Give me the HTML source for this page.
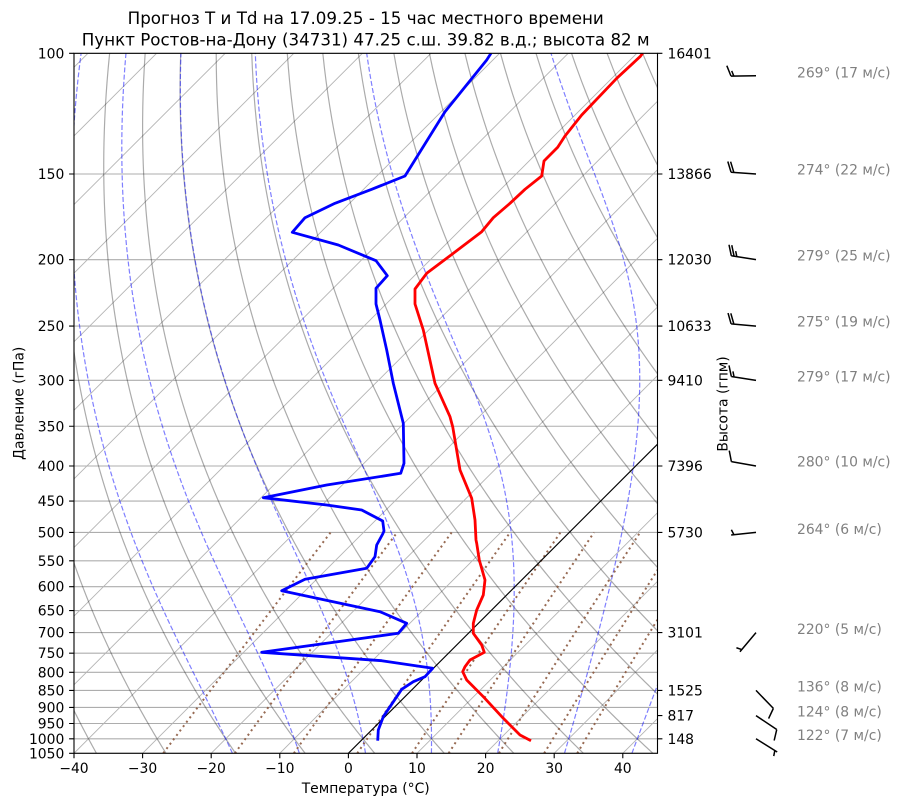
<!DOCTYPE html>
<html><head><meta charset="utf-8">
<style>
html,body{margin:0;padding:0;background:#fff;}
svg{display:block;font-family:"DejaVu Sans","Liberation Sans",sans-serif;}
</style></head><body>
<svg id="s" width="900" height="806" viewBox="0 0 900 806" xmlns="http://www.w3.org/2000/svg">
<defs><clipPath id="c"><rect x="74" y="53.3" width="583.5" height="700"/></clipPath></defs>
<rect x="0" y="0" width="900" height="806" fill="#fff"/>
<g clip-path="url(#c)">
  <g id="hgrid" stroke="#adadad" stroke-width="1.1" fill="none"></g>
  <g id="iso" stroke="#b4b4b4" stroke-width="0.9" fill="none"></g>
  <g id="dry" stroke="#000" stroke-opacity="0.33" stroke-width="1.2" fill="none"></g>
  <g id="moist" stroke="#0000ff" stroke-opacity="0.5" stroke-width="1.2" stroke-dasharray="5,2.2" fill="none"></g>
  <g id="mix" stroke="#8c5a40" stroke-opacity="0.9" stroke-width="2" stroke-dasharray="2,3.5" fill="none"></g>
  <g id="zero" stroke="#000" stroke-width="1.1" fill="none"></g>
  <polyline fill="none" stroke="#ff0000" stroke-width="2.8" stroke-linejoin="round" points="642.7,53.3 640,56.7 616.7,78.3 581.7,115 565,136 557.7,147.3 544,161 541.7,176 525,189.3 510,203.3 493.3,217.7 481.7,231.7 446.7,258.3 426.7,273.3 415,289 415,304 423.3,330 435,383.3 450,416.7 452.7,426.7 460,470 471.7,498.3 475,520 476,540 476.7,543.3 479.3,560 485,580 483.3,595 476.7,610 473.3,623.3 473.3,633.3 481.7,645 484.3,652.3 470,660 465,666.7 462.7,671.7 466.7,680 483.3,696.7 503.3,718.3 520,735 531,740.7"/>
  <polyline fill="none" stroke="#0000ff" stroke-width="2.8" stroke-linejoin="round" points="491,53.3 486.7,60 445,111.7 405,176 371.7,189.3 335,203.3 305,217.7 292.3,232.3 338.3,245 376,260.7 387.3,275.7 376,288.3 376,304 380,320 386.7,350 393.3,383.3 403.3,423.3 404,463.3 400.7,473.3 326.7,485 263.3,497.7 326.7,505 361.7,510 382.7,521 384,531 382.7,534 376.7,545 375,556.7 366.7,568.3 305,579.3 281.7,590.7 380,611.7 406.7,623.3 398.3,633.3 261.7,652.3 381.7,660.7 432.7,668.3 425,676.7 413.3,681.7 401.7,689.3 383.3,716.7 378.3,730 377.7,740.7"/>
</g>
<!-- spines -->
<rect x="74" y="53.3" width="583.5" height="700" fill="none" stroke="#000" stroke-width="1.1"/>
<g id="ticks" stroke="#000" stroke-width="1.1"></g>
<g id="barbs" stroke="#000" stroke-width="1.5" fill="none" stroke-linecap="butt"></g>

<g font-size="16.7" fill="#000" text-anchor="middle">
  <text x="365.7" y="24">Прогноз T и Td на 17.09.25 - 15 час местного времени</text>
  <text x="365.7" y="45.5">Пункт Ростов-на-Дону (34731) 47.25 с.ш. 39.82 в.д.; высота 82 м</text>
</g>
<g font-size="13.9" fill="#000">
  <text x="365.7" y="793" text-anchor="middle">Температура (°C)</text>
  <text transform="translate(23.5,403.3) rotate(-90)" text-anchor="middle">Давление (гПа)</text>
  <text transform="translate(727.7,404) rotate(-90)" text-anchor="middle">Высота (гпм)</text>
</g>
<g id="labels" font-size="13.9" fill="#000"></g>
<g font-size="13.9" fill="#808080">
  <text x="797" y="77.3">269° (17 м/с)</text>
  <text x="797" y="174.7">274° (22 м/с)</text>
  <text x="797" y="260.7">279° (25 м/с)</text>
  <text x="797" y="326.7">275° (19 м/с)</text>
  <text x="797" y="381.3">279° (17 м/с)</text>
  <text x="797" y="466.7">280° (10 м/с)</text>
  <text x="797" y="534">264° (6 м/с)</text>
  <text x="797" y="634">220° (5 м/с)</text>
  <text x="797" y="691.7">136° (8 м/с)</text>
  <text x="797" y="716.7">124° (8 м/с)</text>
  <text x="797" y="740">122° (7 м/с)</text>
</g>
</svg>
<script>
(function(){
var NS="http://www.w3.org/2000/svg";
var B=753.3,TOP=53.3,L=74,R=657.5;
function yp(p){return 53.3+297.7*Math.log(p/100);}
function xt(t,p){return 348.4+6.86*t+(B-yp(p));}
function path(pts){return 'M'+pts.map(function(q){return q[0].toFixed(2)+','+q[1].toFixed(2);}).join('L');}
function add(id,d,tag){var e=document.createElementNS(NS,'path');e.setAttribute('d',d);document.getElementById(id).appendChild(e);return e;}
function txt(x,y,s,anchor){var e=document.createElementNS(NS,'text');e.setAttribute('x',x);e.setAttribute('y',y);if(anchor)e.setAttribute('text-anchor',anchor);e.textContent=s;document.getElementById('labels').appendChild(e);}
var p,i,t;
// horizontal grid + left ticks/labels
var hg='',tk='';
for(p=100;p<=1050;p+=50){var y=yp(p);hg+='M74,'+y.toFixed(2)+'L657.5,'+y.toFixed(2);tk+='M69.1,'+y.toFixed(2)+'L74,'+y.toFixed(2);txt(64.3,(y+5).toFixed(2),String(p),'end');}
add('hgrid',hg);
// bottom ticks
var xl=['\u221240','\u221230','\u221220','\u221210','0','10','20','30','40'];
for(i=0;i<9;i++){var x=L+i*10*6.86;tk+='M'+x.toFixed(2)+',753.3L'+x.toFixed(2)+',758.2';txt(x.toFixed(2),773,xl[i],'middle');}
// right ticks
var hts=[[100,'16401'],[150,'13866'],[200,'12030'],[250,'10633'],[300,'9410'],[400,'7396'],[500,'5730'],[700,'3101'],[850,'1525'],[925,'817'],[1000,'148']];
for(i=0;i<hts.length;i++){var yy=yp(hts[i][0]);tk+='M657.5,'+yy.toFixed(2)+'L662.4,'+yy.toFixed(2);txt(667.5,(yy+5).toFixed(2),hts[i][1]);}
add('ticks',tk);
// isotherms
var d='';
for(t=-180;t<=60;t+=10){d+='M'+xt(t,1050).toFixed(2)+','+B+'L'+xt(t,100).toFixed(2)+','+TOP;}
add('iso',d);
// zero isotherm
add('zero','M'+xt(0,1050).toFixed(2)+','+B+'L'+xt(0,100).toFixed(2)+','+TOP);
// dry adiabats
for(var th=-40;th<=220;th+=10){var pts=[];for(p=1050;p>=100;p-=5){var tk2=(th+273.15)*Math.pow(p/1000,0.2857)-273.15;pts.push([xt(tk2,p),yp(p)]);}add('dry',path(pts));}
// moist adiabats
function es(tK){var tc=tK-273.15;return 6.112*Math.exp(17.67*tc/(tc+243.5));}
function rs(p,tK){var e=es(tK);return 0.621957*e/(p-e);}
function f(p,t){var r=rs(p,t);var Rd=287.04749,Cp=1004.6662,Lv=2.50084e6,eps=0.621957;return ((Rd*t+Lv*r)/(Cp+Lv*Lv*r*eps/(Rd*t*t)))/p;}
function integ(t0,pEnd,h){var out=[],pp=1000,tt=t0;out.push([pp,tt]);while((h<0&&pp>pEnd)||(h>0&&pp<pEnd)){var k1=f(pp,tt),k2=f(pp+h/2,tt+h/2*k1),k3=f(pp+h/2,tt+h/2*k2),k4=f(pp+h,tt+h*k3);tt+=h/6*(k1+2*k2+2*k3+k4);pp+=h;out.push([pp,tt]);}return out;}
for(t=-20;t<=50;t+=10){var up=integ(t+273.15,100,-2),dn=integ(t+273.15,1050,2);var all=dn.reverse().concat(up.slice(1));var pts2=all.map(function(q){return [xt(q[1]-273.15,q[0]),yp(q[0])];});add('moist',path(pts2));}
// mixing ratio lines
var ws=[0.0004,0.001,0.002,0.004,0.007,0.01,0.016,0.024,0.032];
for(i=0;i<ws.length;i++){var w=ws[i],pts3=[];for(p=1050;p>=500;p-=10){var e=w*p/(0.621957+w);var l=Math.log(e/6.112);var td=243.5*l/(17.67-l);pts3.push([xt(td,p),yp(p)]);}add('mix',path(pts3));}
// wind barbs
function barb(sx,sy,dir,nf,nh){var a=dir*Math.PI/180;var ux=Math.sin(a),uy=-Math.cos(a);var nx=-uy,ny=ux;var Ls=25,H=10.5,sp=2.8,sl=4;var ex=sx+ux*Ls,ey=sy+uy*Ls;var s='M'+sx.toFixed(2)+','+sy.toFixed(2)+'L'+ex.toFixed(2)+','+ey.toFixed(2);var pos=0;if(nf===0&&nh>0)pos=sp;var k;for(k=0;k<nf;k++){var bx=ex-ux*pos,by=ey-uy*pos;s+='M'+bx.toFixed(2)+','+by.toFixed(2)+'L'+(bx+nx*H+ux*sl).toFixed(2)+','+(by+ny*H+uy*sl).toFixed(2);pos+=sp;}for(k=0;k<nh;k++){var cx=ex-ux*pos,cy=ey-uy*pos;s+='M'+cx.toFixed(2)+','+cy.toFixed(2)+'L'+(cx+nx*H/2+ux*sl/2).toFixed(2)+','+(cy+ny*H/2+uy*sl/2).toFixed(2);pos+=sp;}add('barbs',s);}
barb(756,75.7,269,1,1);
barb(756,yp(150),274,2,0);
barb(756,yp(200),279,2,1);
barb(756,yp(250),275,2,0);
barb(756,yp(300),279,1,1);
barb(756,yp(400),280,1,0);
barb(756,yp(500),264,0,1);
barb(756,yp(700),220,0,1);
barb(756,yp(850),136,1,0);
barb(756,yp(925),124,1,0);
barb(756,yp(1000),122,0,1);
})();
</script>
</body></html>
